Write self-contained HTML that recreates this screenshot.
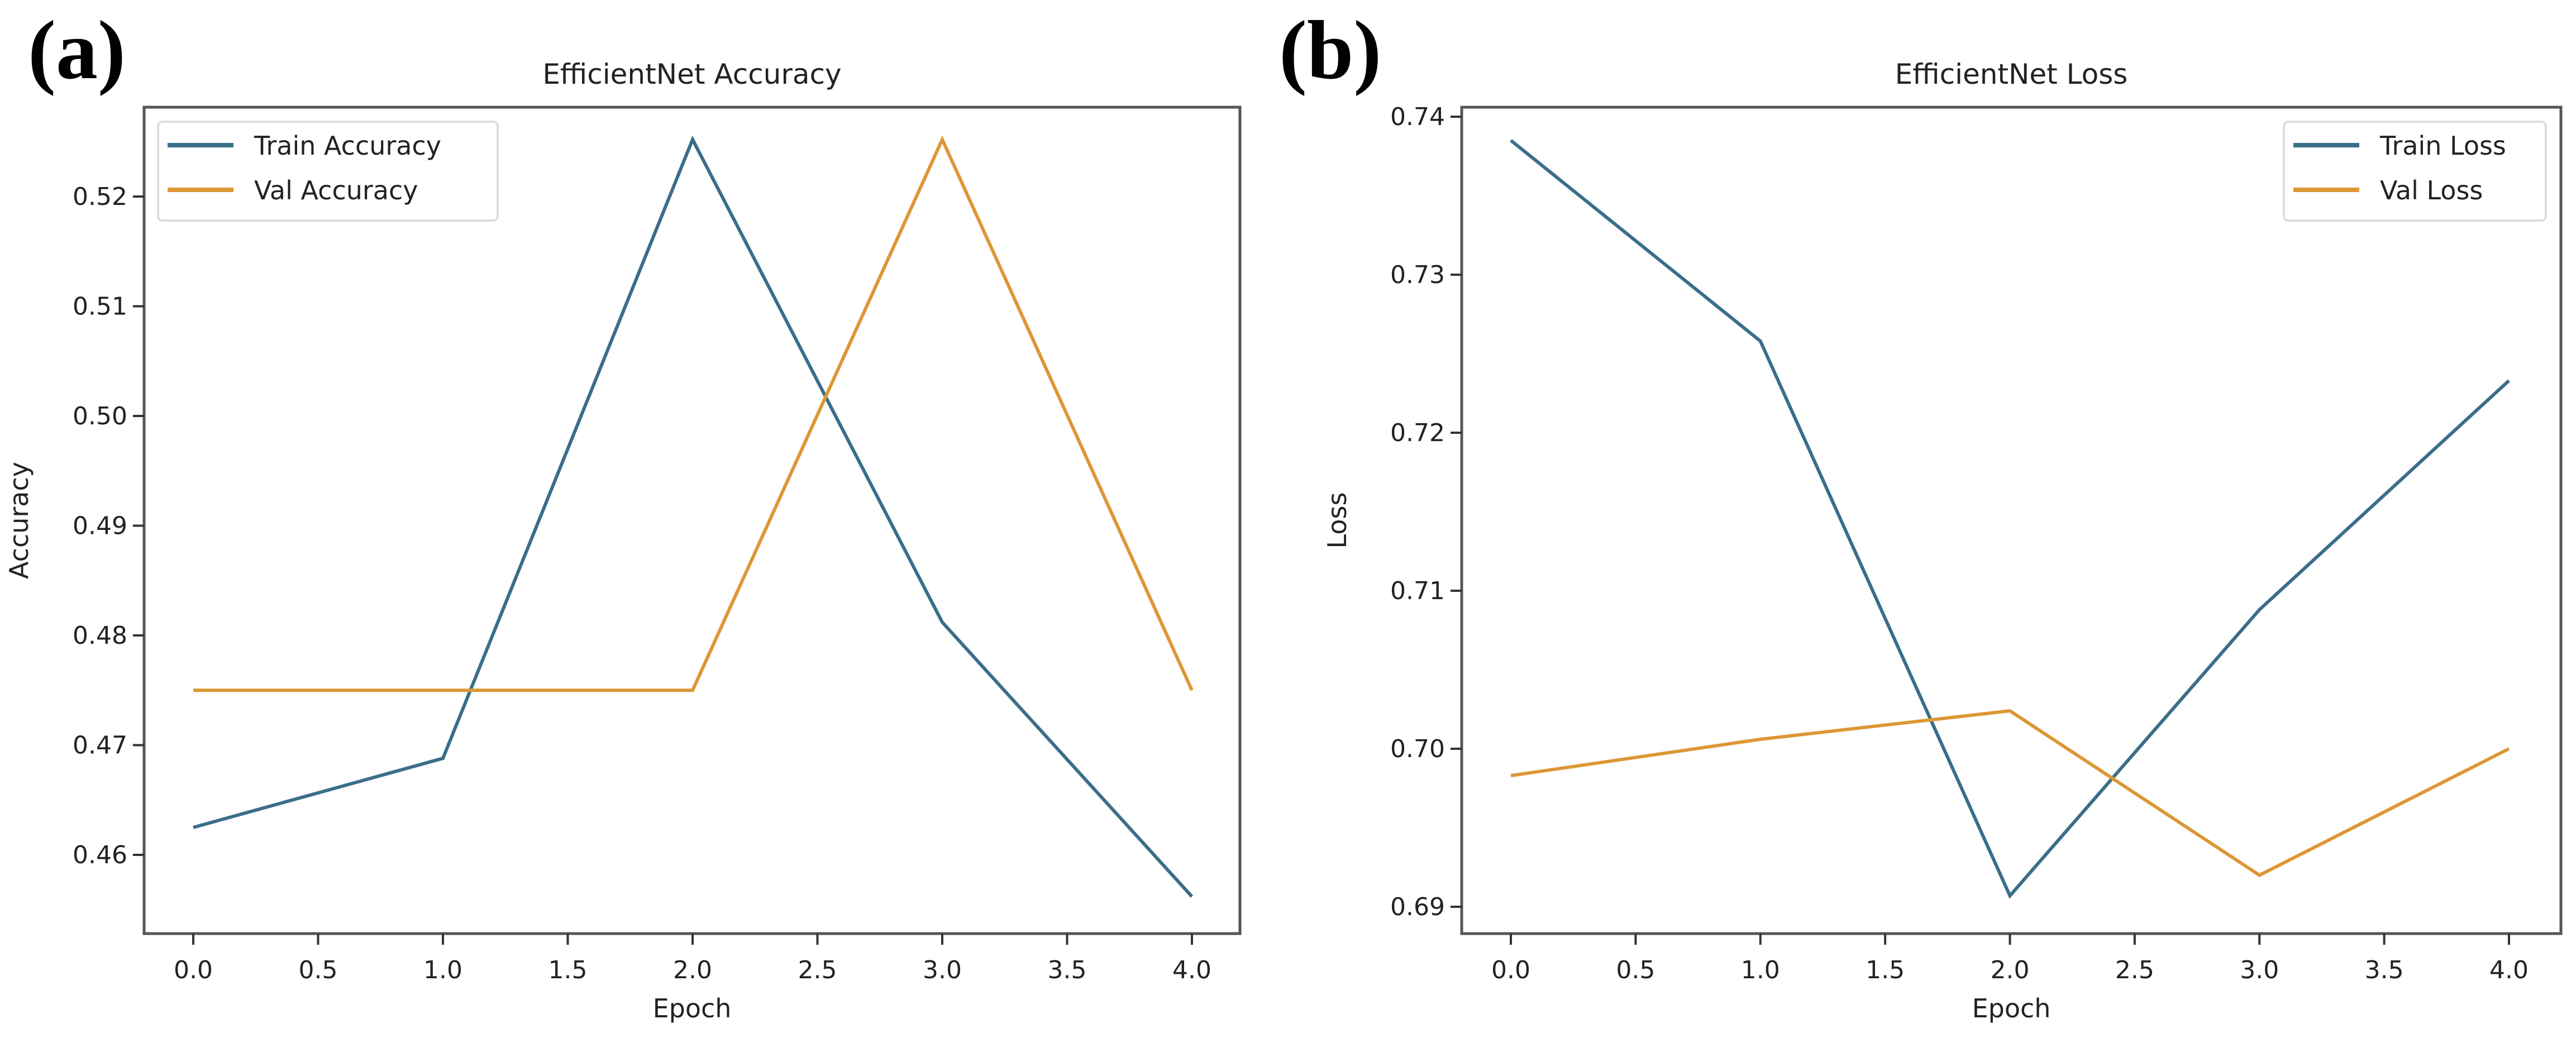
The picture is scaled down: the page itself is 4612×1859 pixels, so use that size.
<!DOCTYPE html>
<html><head><meta charset="utf-8"><style>
html,body{margin:0;padding:0;background:#fff;}
svg{display:block;}
text{font-family:"DejaVu Sans","Liberation Sans",sans-serif;fill:#222;}
</style></head><body>
<svg id="fig" width="4612" height="1859" viewBox="0 0 4612 1859" xmlns="http://www.w3.org/2000/svg">
<text x="50" y="140" style="font-family:'Liberation Serif',serif;font-weight:bold;font-size:150px;fill:#000">(a)</text>
<text x="2290" y="140" style="font-family:'Liberation Serif',serif;font-weight:bold;font-size:150px;fill:#000">(b)</text>
</svg>
<script>
const epochs = [0, 1, 2, 3, 4];
const xTicks = [0, 0.5, 1, 1.5, 2, 2.5, 3, 3.5, 4];
const trainAcc = [0.4625, 0.4688, 0.5252, 0.4812, 0.4562];
const valAcc = [0.475, 0.475, 0.475, 0.5252, 0.475];
const accTicks = [0.46, 0.47, 0.48, 0.49, 0.50, 0.51, 0.52];
const trainLoss = [0.7385, 0.7258, 0.6907, 0.7088, 0.7233];
const valLoss = [0.6983, 0.7006, 0.7024, 0.6920, 0.7000];
const lossTicks = [0.69, 0.70, 0.71, 0.72, 0.73, 0.74];

const NS = 'http://www.w3.org/2000/svg';
const svg = document.getElementById('fig');
function mk(tag, attrs, parent) {
  const e = document.createElementNS(NS, tag);
  for (const k in attrs) e.setAttribute(k, attrs[k]);
  (parent || svg).appendChild(e);
  return e;
}
const TRAIN = '#3a6e8a', VAL = '#dc9735';

function panel(cfg) {
  const g = mk('g', {});
  
  
  const xs = v => cfg.x0 + (v - 0) * (cfg.x4 - cfg.x0) / 4;
  const ys = v => cfg.yA + (v - cfg.vA) * (cfg.yB - cfg.yA) / (cfg.vB - cfg.vA);
  // title
  const t = mk('text', {x: (cfg.L + cfg.R) / 2, y: 150, 'text-anchor': 'middle', 'font-size': 50}, g);
  t.textContent = cfg.title;
  
  
  // series
  [[cfg.train, TRAIN, 'train-line'], [cfg.val, VAL, 'val-line']].forEach(([arr, col, nm]) => {
    const pts = arr.map((v, i) => xs(epochs[i]) + ',' + ys(v)).join(' ');
    const p = mk('polyline', {points: pts, fill: 'none', stroke: col, 'stroke-width': 6, 'stroke-linejoin': 'miter'}, g);
    
    
  });
  // frame
  const fr = mk('rect', {x: cfg.L, y: cfg.T, width: cfg.R - cfg.L, height: cfg.B - cfg.T, fill: 'none', stroke: '#555', 'stroke-width': 5}, g);
  
  
  // x ticks
  xTicks.forEach(v => {
    const x = xs(v);
    mk('line', {x1: x, x2: x, y1: cfg.B, y2: cfg.B + 20, stroke: '#333', 'stroke-width': 4}, g);
    const tl = mk('text', {x: x, y: 1752, 'text-anchor': 'middle', 'font-size': 44}, g);
    tl.textContent = v.toFixed(1);
    
    
  });
  const xl = mk('text', {x: (cfg.L + cfg.R) / 2, y: 1822, 'text-anchor': 'middle', 'font-size': 46}, g);
  xl.textContent = 'Epoch';
  
  
  // y ticks
  cfg.ticks.forEach(v => {
    const y = ys(v);
    mk('line', {x1: cfg.L - 20, x2: cfg.L, y1: y, y2: y, stroke: '#333', 'stroke-width': 4}, g);
    const tl = mk('text', {x: cfg.L - 30, y: y + 15, 'text-anchor': 'end', 'font-size': 44}, g);
    tl.textContent = v.toFixed(2);
    
    
  });
  const yl = mk('text', {x: cfg.ylx, y: (cfg.T + cfg.B) / 2, 'text-anchor': 'middle', 'font-size': 46, transform: `rotate(-90 ${cfg.ylx} ${(cfg.T + cfg.B) / 2})`}, g);
  yl.textContent = cfg.ylabel;
  
  
  // legend
  const lg = mk('g', {}, g);
  
  
  mk('rect', {x: cfg.lx, y: 218, width: cfg.lw, height: 177, rx: 8, fill: '#fff', stroke: '#ddd', 'stroke-width': 4}, lg);
  [[cfg.names[0], TRAIN, 260], [cfg.names[1], VAL, 340]].forEach(([nm, col, y]) => {
    mk('line', {x1: cfg.lx + 17, x2: cfg.lx + 135, y1: y, y2: y, stroke: col, 'stroke-width': 8}, lg);
    const lt = mk('text', {x: cfg.lx + 172, y: y + 17, 'font-size': 46}, lg);
    lt.textContent = nm;
    
    
  });
}

panel({name: 'accuracy-chart', title: 'EfficientNet Accuracy', L: 258, R: 2220, T: 192, B: 1672,
  x0: 346, x4: 2134, yA: 1531, vA: 0.46, yB: 352, vB: 0.52, ticks: accTicks,
  train: trainAcc, val: valAcc, ylabel: 'Accuracy', ylx: 50,
  lx: 283, lw: 608, names: ['Train Accuracy', 'Val Accuracy']});
panel({name: 'loss-chart', title: 'EfficientNet Loss', L: 2617, R: 4585, T: 192, B: 1672,
  x0: 2705, x4: 4492, yA: 1624, vA: 0.69, yB: 209, vB: 0.74, ticks: lossTicks,
  train: trainLoss, val: valLoss, ylabel: 'Loss', ylx: 2410,
  lx: 4089, lw: 469, names: ['Train Loss', 'Val Loss']});
</script>
</body></html>
